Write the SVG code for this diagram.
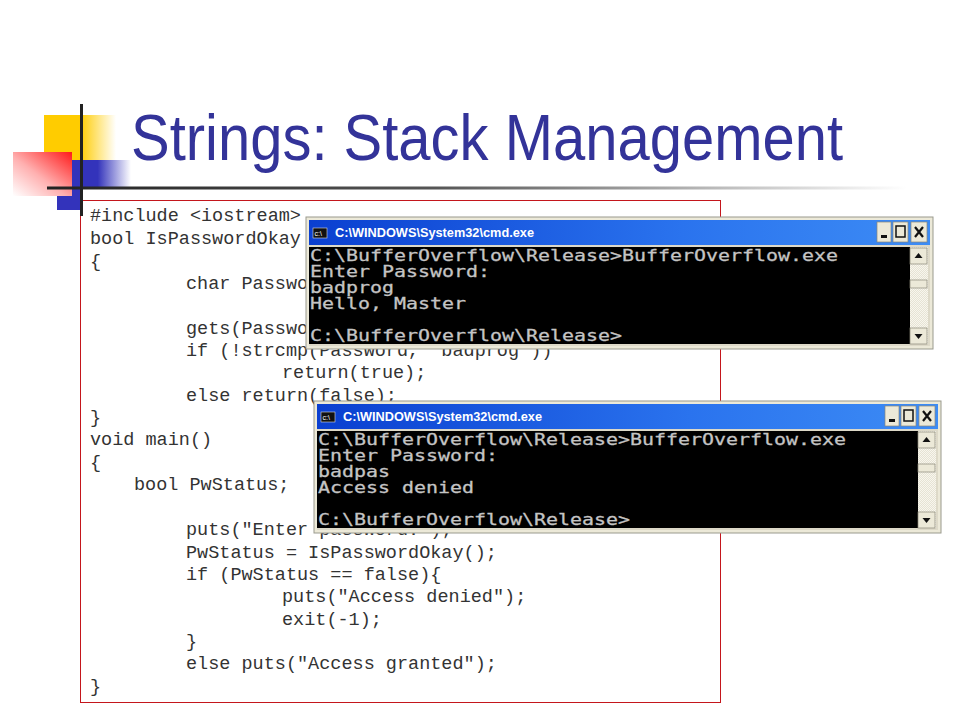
<svg xmlns="http://www.w3.org/2000/svg" xmlns:xlink="http://www.w3.org/1999/xlink" width="960" height="720" viewBox="0 0 960 720">
<style>
.code{font-family:"Liberation Mono","Courier New",monospace;font-size:18.5px;fill:#333}
.term{font-family:"DejaVu Sans Mono","Liberation Mono",monospace;font-size:16.5px;fill:#c4c4c4;stroke:#c4c4c4;stroke-width:.3}
.cap{font-family:"Liberation Sans",Arial,sans-serif;font-size:12px;font-weight:bold;fill:#fff}
.btn{fill:#ece9d8;stroke:#8a8878;stroke-width:.7}
</style>
<defs>
<linearGradient id="yel" x1="0" x2="1" y1="0" y2="0"><stop offset="0" stop-color="#ffcc00"/><stop offset=".5" stop-color="#ffcc00"/><stop offset="1" stop-color="#ffcc00" stop-opacity="0"/></linearGradient>
<linearGradient id="blu" x1="0" x2="1" y1="0" y2="0"><stop offset="0" stop-color="#3333bb"/><stop offset=".55" stop-color="#3333bb"/><stop offset="1" stop-color="#3333bb" stop-opacity="0"/></linearGradient>
<linearGradient id="red" x1="1" x2="0" y1="0" y2="1"><stop offset="0" stop-color="#ff1a1a"/><stop offset=".55" stop-color="#ffb0b0"/><stop offset="1" stop-color="#ffffff"/></linearGradient>
<linearGradient id="rule" x1="0" x2="1" y1="0" y2="0"><stop offset="0" stop-color="#222"/><stop offset=".45" stop-color="#555"/><stop offset="1" stop-color="#555" stop-opacity="0"/></linearGradient>
<linearGradient id="bar" x1="0" x2="1" y1="0" y2="0"><stop offset="0" stop-color="#0a3fd0"/><stop offset=".6" stop-color="#2a73ee"/><stop offset="1" stop-color="#3d8cf5"/></linearGradient>
<pattern id="dots" width="2" height="2" patternUnits="userSpaceOnUse"><rect width="2" height="2" fill="#f8f6ee"/><rect width="1" height="1" fill="#e6e3d4"/><rect x="1" y="1" width="1" height="1" fill="#e6e3d4"/></pattern>
<g id="win">
<rect x="0" y="0" width="627" height="132" fill="#ece9d8" stroke="#9a9a8e" stroke-width="1"/>
<rect x="3" y="3" width="621" height="25" fill="url(#bar)"/>
<rect x="3" y="28" width="621" height="101" fill="#ddd9c8"/>
<rect x="3" y="30" width="601" height="97" fill="#000"/>
<rect x="604" y="30" width="18" height="97" fill="url(#dots)"/>
<rect x="7" y="11" width="14" height="10" fill="#111" stroke="#ddd" stroke-width=".6"/>
<text x="8.500" y="19" font-size="7" fill="#fff" font-family="Liberation Sans,sans-serif">c:\</text>
<text x="29" y="20" class="cap" textLength="199" lengthAdjust="spacingAndGlyphs">C:\WINDOWS\System32\cmd.exe</text>
<rect x="571" y="5" width="14" height="20" class="btn"/>
<rect x="575" y="18" width="6" height="3" fill="#111"/>
<rect x="587" y="5" width="15" height="20" class="btn"/>
<rect x="590" y="9" width="9" height="11" fill="none" stroke="#111" stroke-width="1.500"/>
<rect x="605" y="5" width="16" height="20" class="btn"/>
<path d="M609 10l8 10M617 10l-8 10" stroke="#111" stroke-width="2.200" fill="none"/>
<rect x="604" y="31" width="17" height="16" class="btn"/>
<path d="M612.500 36l4 5h-8z" fill="#111"/>
<rect x="604" y="63" width="17" height="8" class="btn"/>
<rect x="604" y="111" width="17" height="16" class="btn"/>
<path d="M612.500 122l4-5h-8z" fill="#111"/>
</g>
</defs>
<rect width="960" height="720" fill="#fff"/>

<g id="decor">
<rect x="44" y="115" width="72" height="45" fill="url(#yel)"/>
<rect x="57" y="160" width="74" height="50" fill="url(#blu)"/>
<rect x="83" y="189" width="50" height="12" fill="#fff"/>
<rect x="80.500" y="200.500" width="640" height="502" fill="#fff" stroke="#c4161c" stroke-width="1"/>
<rect x="13" y="152" width="59" height="44" fill="url(#red)"/>
<rect x="47" y="186.500" width="860" height="3" fill="url(#rule)"/>
<rect x="80" y="104" width="3" height="112" fill="#222"/>
</g>

<text id="title" x="131" y="160" font-family="Liberation Sans,Arial,sans-serif" font-size="65" fill="#333399" textLength="712" lengthAdjust="spacingAndGlyphs">Strings: Stack Management</text>

<g id="code">
<text class="code" x="90" y="221">#include &lt;iostream&gt;</text>
<text class="code" x="90" y="244">bool IsPasswordOkay</text>
<text class="code" x="90" y="267">{</text>
<text class="code" x="186" y="289">char Passwo</text>
<text class="code" x="186" y="334">gets(Passwo</text>
<text class="code" x="186" y="356">if (!strcmp(Password, "badprog"))</text>
<text class="code" x="282" y="378">return(true);</text>
<text class="code" x="186" y="401">else return(false);</text>
<text class="code" x="90" y="423">}</text>
<text class="code" x="90" y="445">void main()</text>
<text class="code" x="90" y="468">{</text>
<text class="code" x="134" y="490">bool PwStatus;</text>
<text class="code" x="186" y="535">puts("Enter password:");</text>
<text class="code" x="186" y="558">PwStatus = IsPasswordOkay();</text>
<text class="code" x="186" y="580">if (PwStatus == false){</text>
<text class="code" x="282" y="602">puts("Access denied");</text>
<text class="code" x="282" y="625">exit(-1);</text>
<text class="code" x="186" y="647">}</text>
<text class="code" x="186" y="669">else puts("Access granted");</text>
<text class="code" x="90" y="692">}</text>
</g>

<g id="window1" transform="translate(306 217)">
<use xlink:href="#win" href="#win"/>
<text class="term" x="4" y="44" textLength="528" lengthAdjust="spacingAndGlyphs">C:\BufferOverflow\Release&gt;BufferOverflow.exe</text>
<text class="term" x="4" y="60" textLength="180" lengthAdjust="spacingAndGlyphs">Enter Password:</text>
<text class="term" x="4" y="76" textLength="84" lengthAdjust="spacingAndGlyphs">badprog</text>
<text class="term" x="4" y="92" textLength="156" lengthAdjust="spacingAndGlyphs">Hello, Master</text>
<text class="term" x="4" y="124" textLength="312" lengthAdjust="spacingAndGlyphs">C:\BufferOverflow\Release&gt;</text>
</g>
<g id="window2" transform="translate(314 401)">
<use xlink:href="#win" href="#win"/>
<text class="term" x="4" y="44" textLength="528" lengthAdjust="spacingAndGlyphs">C:\BufferOverflow\Release&gt;BufferOverflow.exe</text>
<text class="term" x="4" y="60" textLength="180" lengthAdjust="spacingAndGlyphs">Enter Password:</text>
<text class="term" x="4" y="76" textLength="72" lengthAdjust="spacingAndGlyphs">badpas</text>
<text class="term" x="4" y="92" textLength="156" lengthAdjust="spacingAndGlyphs">Access denied</text>
<text class="term" x="4" y="124" textLength="312" lengthAdjust="spacingAndGlyphs">C:\BufferOverflow\Release&gt;</text>
</g>
</svg>
